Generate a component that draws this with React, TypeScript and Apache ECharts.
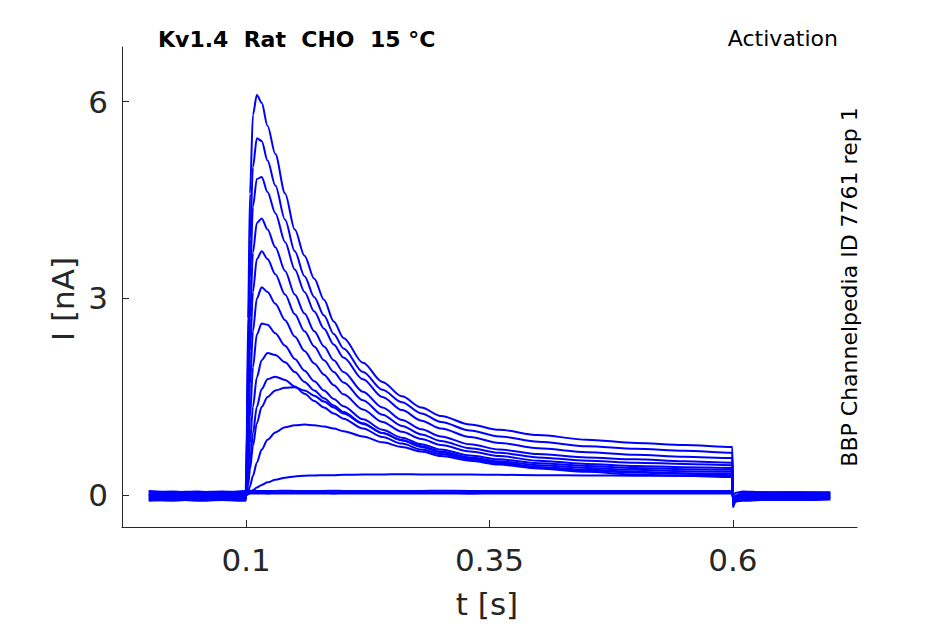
import React, { useEffect, useRef } from "react";
import * as echarts from "echarts";

const xTicks = [0.1, 0.35, 0.6];
const yTicks = [0, 3, 6];

const times = [
  0, 0.025, 0.05, 0.075, 0.0995,
  0.1, 0.102, 0.104, 0.107, 0.111, 0.116, 0.122, 0.13, 0.14, 0.15, 0.16, 0.17, 0.18, 0.19, 0.2,
  0.22, 0.24, 0.26, 0.28, 0.3, 0.33, 0.36, 0.4, 0.45, 0.5, 0.55, 0.5995,
  0.6, 0.603, 0.61, 0.63, 0.66, 0.7,
];

const trace1 = [-0.03, -0.05, -0.02, -0.04, -0.03,
  0, 2.7, 4.6, 5.8, 6.1, 5.98, 5.63, 5.2, 4.6, 4.05, 3.65, 3.3, 2.98, 2.65, 2.4,
  2.02, 1.73, 1.51, 1.34, 1.21, 1.08, 1.0, 0.92, 0.85, 0.8, 0.77, 0.74,
  -0.18, -0.08, -0.04, -0.02, -0.01, -0.01];
const trace2 = [0.04, 0.02, 0.05, 0.03, 0.04,
  0, 2.2, 3.9, 5.0, 5.44, 5.4, 5.1, 4.72, 4.2, 3.72, 3.34, 3.02, 2.74, 2.46, 2.24,
  1.88, 1.61, 1.42, 1.25, 1.12, 0.99, 0.9, 0.82, 0.75, 0.71, 0.68, 0.65,
  -0.16, -0.06, -0.02, 0.0, 0.01, 0.0];
const trace3 = [-0.06, -0.04, -0.07, -0.05, -0.06,
  0, 1.8, 3.3, 4.4, 4.82, 4.85, 4.62, 4.3, 3.86, 3.44, 3.1, 2.8, 2.54, 2.3, 2.1,
  1.77, 1.5, 1.3, 1.14, 1.02, 0.89, 0.8, 0.72, 0.66, 0.62, 0.59, 0.57,
  -0.14, -0.07, -0.05, -0.04, -0.03, -0.03];
const trace4 = [0.0, 0.02, -0.01, 0.01, 0.0,
  0, 1.4, 2.7, 3.7, 4.15, 4.22, 4.05, 3.78, 3.42, 3.06, 2.77, 2.5, 2.27, 2.06, 1.88,
  1.58, 1.34, 1.15, 1.01, 0.9, 0.78, 0.7, 0.63, 0.58, 0.55, 0.52, 0.5,
  -0.12, -0.04, 0.0, 0.02, 0.02, 0.01];
const trace5 = [0.06, 0.04, 0.05, 0.06, 0.05,
  0, 1.1, 2.2, 3.1, 3.6, 3.72, 3.6, 3.37, 3.06, 2.76, 2.5, 2.27, 2.06, 1.88, 1.72,
  1.45, 1.23, 1.06, 0.93, 0.83, 0.72, 0.65, 0.58, 0.53, 0.5, 0.48, 0.46,
  -0.11, -0.09, -0.07, -0.06, -0.05, -0.04];
const trace6 = [-0.07, -0.08, -0.06, -0.07, -0.05,
  0, 0.8, 1.7, 2.5, 3.0, 3.17, 3.1, 2.92, 2.67, 2.42, 2.2, 2.01, 1.84, 1.68, 1.54,
  1.31, 1.12, 0.97, 0.86, 0.77, 0.67, 0.6, 0.53, 0.48, 0.45, 0.43, 0.42,
  -0.1, -0.03, 0.02, 0.03, 0.04, 0.03];
const trace7 = [0.01, -0.01, 0.02, 0.0, 0.01,
  0, 0.55, 1.2, 1.95, 2.45, 2.62, 2.6, 2.47, 2.28, 2.08, 1.9, 1.74, 1.6, 1.47, 1.36,
  1.16, 1.0, 0.88, 0.78, 0.7, 0.61, 0.55, 0.49, 0.45, 0.42, 0.4, 0.39,
  -0.09, -0.06, -0.03, -0.02, -0.01, -0.02];
const trace8 = [-0.03, -0.01, -0.04, -0.02, -0.03,
  0, 0.35, 0.8, 1.35, 1.8, 2.06, 2.17, 2.14, 2.03, 1.88, 1.73, 1.6, 1.48, 1.37, 1.27,
  1.1, 0.95, 0.84, 0.75, 0.67, 0.58, 0.52, 0.46, 0.42, 0.39, 0.37, 0.36,
  -0.08, -0.02, 0.03, 0.04, 0.05, 0.04];
const trace9 = [0.05, 0.06, 0.03, 0.04, 0.06,
  0, 0.22, 0.5, 0.95, 1.35, 1.62, 1.77, 1.81, 1.76, 1.66, 1.55, 1.44, 1.34, 1.25, 1.17,
  1.02, 0.89, 0.79, 0.7, 0.63, 0.55, 0.49, 0.43, 0.39, 0.36, 0.34, 0.33,
  -0.08, -0.07, -0.06, -0.05, -0.04, -0.05];
const trace10 = [-0.01, -0.03, 0.0, -0.02, -0.01,
  0, 0.15, 0.4, 0.75, 1.1, 1.35, 1.5, 1.6, 1.64, 1.65, 1.6, 1.52, 1.43, 1.34, 1.25,
  1.09, 0.95, 0.84, 0.74, 0.66, 0.57, 0.5, 0.43, 0.38, 0.35, 0.33, 0.31,
  -0.07, -0.01, 0.01, 0.02, 0.02, 0.02];
const trace11 = [0.02, 0.0, 0.03, 0.04, 0.02,
  0, 0.05, 0.14, 0.3, 0.5, 0.7, 0.85, 0.96, 1.04, 1.07, 1.08, 1.07, 1.05, 1.02, 0.98,
  0.9, 0.81, 0.74, 0.67, 0.6, 0.53, 0.47, 0.41, 0.36, 0.32, 0.3, 0.28,
  -0.06, -0.05, -0.04, -0.03, -0.02, -0.02];
const trace12 = [-0.05, -0.07, -0.04, -0.06, -0.05,
  0, 0.02, 0.04, 0.08, 0.12, 0.16, 0.2, 0.24, 0.27, 0.29, 0.3, 0.305, 0.31, 0.31, 0.315,
  0.32, 0.32, 0.325, 0.32, 0.32, 0.32, 0.315, 0.31, 0.305, 0.3, 0.3, 0.295,
  -0.05, 0.0, 0.04, 0.05, 0.05, 0.05];
const trace13 = [0.07, 0.05, 0.06, 0.04, 0.07,
  0.07, 0.07, 0.07, 0.072, 0.07, 0.068, 0.07, 0.07, 0.072, 0.07, 0.068, 0.07, 0.07, 0.072, 0.07,
  0.07, 0.068, 0.07, 0.07, 0.072, 0.07, 0.07, 0.068, 0.07, 0.07, 0.07, 0.07,
  -0.02, -0.08, -0.07, -0.06, -0.06, -0.05];
const trace14 = [-0.08, -0.06, -0.08, -0.07, -0.08,
  0.05, 0.048, 0.05, 0.05, 0.052, 0.05, 0.048, 0.05, 0.05, 0.052, 0.05, 0.05, 0.048, 0.05, 0.05,
  0.052, 0.05, 0.05, 0.048, 0.05, 0.05, 0.052, 0.05, 0.05, 0.048, 0.05, 0.05,
  0.0, 0.04, 0.06, 0.05, 0.04, 0.03];
const trace15 = [0.0, 0.01, -0.02, 0.02, 0.0,
  0.03, 0.03, 0.03, 0.032, 0.03, 0.03, 0.028, 0.03, 0.03, 0.03, 0.032, 0.03, 0.03, 0.028, 0.03,
  0.03, 0.03, 0.032, 0.03, 0.03, 0.028, 0.03, 0.03, 0.03, 0.032, 0.03, 0.03,
  -0.01, -0.09, -0.08, -0.07, -0.07, -0.06];

const traces = [trace1, trace2, trace3, trace4, trace5, trace6, trace7, trace8,
  trace9, trace10, trace11, trace12, trace13, trace14, trace15];

const FONT = '"DejaVu Sans", "Noto Sans", sans-serif';
const AXIS_COLOR = "#262626";

export default function App() {
  const ref = useRef<HTMLDivElement>(null);
  useEffect(() => {
    if (!ref.current) return;
    const chart = echarts.init(ref.current, undefined, { renderer: "svg" });
    const series = traces.map((tr, k) => ({
      type: "line",
      name: "trace" + (k + 1),
      data: times.map((t, i) => [t, tr[i]]),
      showSymbol: false,
      smooth: 0.3,
      smoothMonotone: "x",
      lineStyle: { color: "#0000ff", width: 2 },
      itemStyle: { color: "#0000ff" },
      silent: true,
    }));
    chart.setOption({
      animation: false,
      backgroundColor: "#ffffff",
      grid: { left: 122, top: 47, right: 88, bottom: 97, containLabel: false },
      xAxis: {
        type: "value",
        min: -0.0275,
        max: 0.7275,
        axisLine: { show: true, onZero: false, lineStyle: { color: AXIS_COLOR, width: 1 } },
        axisTick: { show: true, inside: true, length: 7, customValues: xTicks, lineStyle: { color: AXIS_COLOR } },
        axisLabel: {
          customValues: xTicks,
          formatter: (v: number) => String(v),
          fontSize: 31,
          fontFamily: FONT,
          color: AXIS_COLOR,
          margin: 17,
        },
        splitLine: { show: false },
      },
      yAxis: {
        type: "value",
        min: -0.48,
        max: 6.83,
        axisLine: { show: true, onZero: false, lineStyle: { color: AXIS_COLOR, width: 1 } },
        axisTick: { show: true, inside: true, length: 7, customValues: yTicks, lineStyle: { color: AXIS_COLOR } },
        axisLabel: {
          customValues: yTicks,
          formatter: (v: number) => String(v),
          fontSize: 31,
          fontFamily: FONT,
          color: AXIS_COLOR,
          margin: 14,
        },
        splitLine: { show: false },
      },
      graphic: [
        {
          type: "text",
          x: 158,
          y: 39,
          style: {
            text: "Kv1.4  Rat  CHO  15 °C",
            font: `bold 22px ${FONT}`,
            fill: "#000000",
            textAlign: "left",
            textVerticalAlign: "middle",
            align: "left",
            verticalAlign: "middle",
          },
        },
        {
          type: "text",
          x: 838,
          y: 38,
          style: {
            text: "Activation",
            font: `22px ${FONT}`,
            fill: "#000000",
            textAlign: "right",
            textVerticalAlign: "middle",
            align: "right",
            verticalAlign: "middle",
          },
        },
        {
          type: "text",
          x: 849,
          y: 287,
          rotation: Math.PI / 2,
          style: {
            text: "BBP Channelpedia ID 7761 rep 1",
            font: `22px ${FONT}`,
            fill: "#000000",
            textAlign: "center",
            textVerticalAlign: "middle",
            align: "center",
            verticalAlign: "middle",
          },
        },
        {
          type: "text",
          x: 63,
          y: 299,
          rotation: Math.PI / 2,
          style: {
            text: "I [nA]",
            font: `31px ${FONT}`,
            fill: AXIS_COLOR,
            textAlign: "center",
            textVerticalAlign: "middle",
            align: "center",
            verticalAlign: "middle",
          },
        },
        {
          type: "text",
          x: 487,
          y: 604,
          style: {
            text: "t [s]",
            font: `31px ${FONT}`,
            fill: AXIS_COLOR,
            textAlign: "center",
            textVerticalAlign: "middle",
            align: "center",
            verticalAlign: "middle",
          },
        },
      ],
      series,
    });
    return () => chart.dispose();
  }, []);
  return (
    <div
      ref={ref}
      style={{ position: "fixed", left: 0, top: 0, width: 945, height: 624, background: "#fff" }}
    />
  );
}
